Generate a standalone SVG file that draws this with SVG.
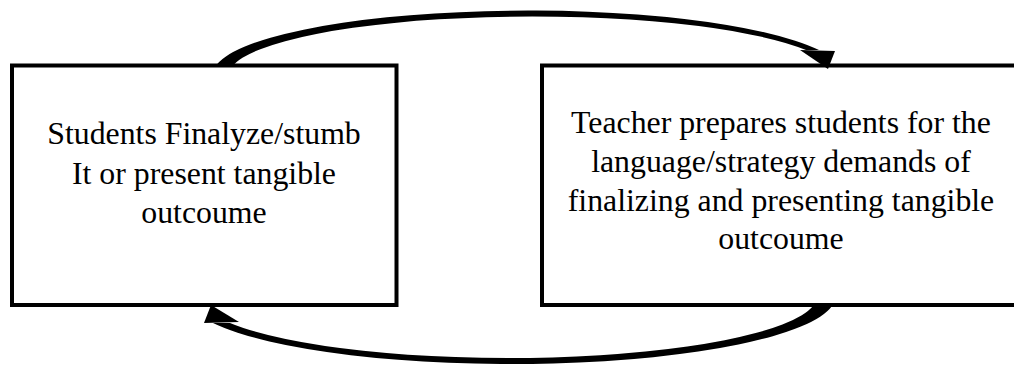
<svg xmlns="http://www.w3.org/2000/svg" width="1014" height="365" viewBox="0 0 1014 365">
<style>
.box{fill:#fff;stroke:#000;stroke-width:4;stroke-linejoin:miter}
.t{font-family:"Liberation Serif","Times New Roman",serif;font-size:31.8px;fill:#000;text-anchor:middle}
.arc{fill:#000;stroke:none}
</style>
<rect width="1014" height="365" fill="#fff"/>
<g id="node-students">
<rect class="box" x="12" y="65.5" width="384.5" height="239.5"/>
<text class="t" x="204" y="144">Students Finalyze/stumb</text>
<text class="t" x="204" y="183.5">It or present tangible</text>
<text class="t" x="204" y="223">outcoume</text>
</g>
<g id="node-teacher">
<rect class="box" x="542" y="65.5" width="490" height="239.5"/>
<text class="t" x="781" y="133.3">Teacher prepares students for the</text>
<text class="t" x="781" y="172">language/strategy demands of</text>
<text class="t" x="781" y="210.7">finalizing and presenting tangible</text>
<text class="t" x="781" y="249.4">outcoume</text>
</g>
<g id="connectors">
<path class="arc" d="M215,67 A315.6 64.5 0 0 1 819,50 L806,50 A303 58.5 0 0 0 232,67 Z"/>
<polygon class="arc" points="800,50 835,51 828,69"/>
<path class="arc" d="M832,306 A324.6 68 0 0 1 213,323 L230,323 A308.9 62 0 0 0 813,306 Z"/>
<polygon class="arc" points="211,305 204,323 239,322"/>
</g>
</svg>
